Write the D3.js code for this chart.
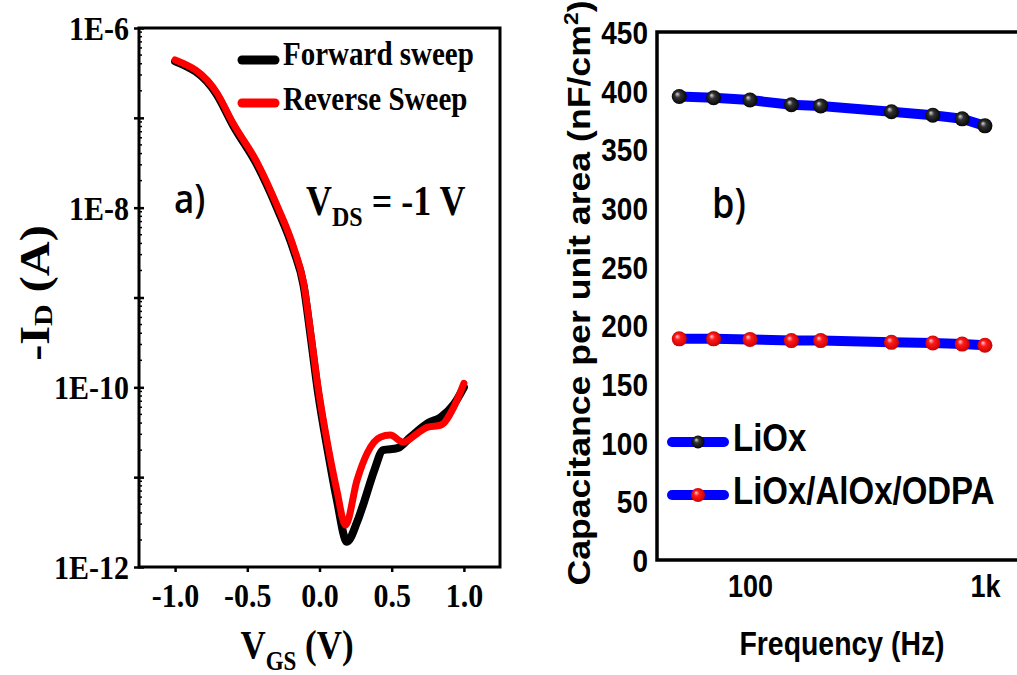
<!DOCTYPE html>
<html>
<head>
<meta charset="utf-8">
<script src="https://cdn.jsdelivr.net/npm/d3@7"></script>
<style>
  html, body { margin: 0; padding: 0; background: #fff; }
  svg { display: block; }
</style>
</head>
<body>
<svg id="chart" width="1017" height="675"></svg>
<script>
// ---------------- DATA ----------------
// Panel a) transfer curves
const vgsForward = [-1.00, -0.71, -0.60, -0.43, -0.29, -0.18, -0.11, -0.06, -0.01, 0.06, 0.12, 0.19, 0.26, 0.31, 0.38, 0.44, 0.54, 0.63, 0.75, 0.84, 0.93, 1.00];
const idForward  = [4.27e-7, 1.80e-7, 8.32e-8, 2.95e-8, 9.55e-9, 3.39e-9, 1.35e-9, 3.55e-10, 8.71e-11, 1.86e-11, 5.62e-12, 1.91e-12, 3.16e-12, 5.37e-12, 1.20e-11, 2.00e-11, 2.10e-11, 2.79e-11, 3.99e-11, 4.66e-11, 6.46e-11, 1.00e-10];
const vgsReverse = [-1.00, -0.71, -0.60, -0.43, -0.29, -0.18, -0.11, -0.06, -0.01, 0.06, 0.12, 0.18, 0.26, 0.33, 0.42, 0.49, 0.58, 0.68, 0.75, 0.84, 0.93, 1.00];
const idReverse  = [4.41e-7, 1.89e-7, 8.75e-8, 3.14e-8, 1.02e-8, 3.64e-9, 1.45e-9, 3.98e-10, 1.00e-10, 2.16e-11, 7.16e-12, 2.92e-12, 9.27e-12, 1.85e-11, 2.79e-11, 2.94e-11, 2.45e-11, 3.09e-11, 3.61e-11, 3.79e-11, 6.03e-11, 1.11e-10];
const vgsTicks = [-1.0, -0.5, 0.0, 0.5, 1.0];
const idDecades = [1e-12, 1e-11, 1e-10, 1e-9, 1e-8, 1e-7, 1e-6];
const idTickLabels = {"-12": "1E-12", "-10": "1E-10", "-8": "1E-8", "-6": "1E-6"};
const legendA = ["Forward sweep", "Reverse Sweep"];

// Panel b) capacitance vs frequency
const frequency = [50, 70, 100, 150, 200, 400, 600, 800, 1000];
const capLiOx   = [395, 394, 392, 388, 387, 382, 379, 376, 370];
const capODPA   = [188.5, 188.5, 188, 187, 187, 185.5, 185, 184, 183];
const capTicks  = [0, 50, 100, 150, 200, 250, 300, 350, 400, 450];
const freqTicks = [100, 1000];
const freqTickLabels = ["100", "1k"];
const legendB = ["LiOx", "LiOx/AlOx/ODPA"];

// ---------------- SETUP ----------------
const svg = d3.select("#chart");
const SY = 1.15; // vertical stretch of text in the reference
const SERIF = "'Liberation Serif', 'Times New Roman', serif";
const SANS = "'Liberation Sans', Arial, sans-serif";

const defs = svg.append("defs");
function sphere(id, hi, mid, edge) {
  const g = defs.append("radialGradient").attr("id", id)
    .attr("cx", "50%").attr("cy", "50%").attr("r", "55%")
    .attr("fx", "35%").attr("fy", "32%");
  g.append("stop").attr("offset", "0%").attr("stop-color", hi);
  g.append("stop").attr("offset", "35%").attr("stop-color", mid);
  g.append("stop").attr("offset", "100%").attr("stop-color", edge);
}
sphere("gBlack", "#d8d8d8", "#333", "#000");
sphere("gRed", "#ffd0d0", "#ff1a1a", "#c40000");

function stretchText(sel) {
  sel.each(function() {
    const t = d3.select(this);
    const x = +t.attr("x") || 0, y = +t.attr("y") || 0;
    t.attr("x", null).attr("y", null)
     .attr("transform", `translate(${x},${y}) scale(1,${SY})`);
  });
}

// ================= PANEL A =================
const A = {l: 139, r: 500, t: 28, b: 567};
const xA = d3.scaleLinear().domain([-1.25, 1.25]).range([A.l, A.r]);
const yA = d3.scaleLog().domain([1e-12, 1e-6]).range([A.b, A.t]);
const gA = svg.append("g");

// minor log ticks (inside)
const minor = [];
idDecades.slice(0, -1).forEach(d => { for (let k = 2; k <= 9; k++) minor.push(d * k); });
gA.append("g").selectAll("line").data(minor).join("line")
  .attr("x1", A.l).attr("x2", A.l + 3)
  .attr("y1", d => yA(d)).attr("y2", d => yA(d))
  .attr("stroke", "#000").attr("stroke-width", 1.5);

// y axis (major decade ticks crossing the axis)
const yAxisA = gA.append("g").attr("transform", `translate(${A.l},0)`)
  .call(d3.axisLeft(yA).tickValues(idDecades).tickSize(5).tickSizeOuter(0)
    .tickFormat(d => idTickLabels[Math.round(Math.log10(d))] || ""));
yAxisA.select(".domain").remove();
yAxisA.selectAll(".tick line").attr("x1", 5).attr("stroke-width", 2.5);
yAxisA.selectAll(".tick text")
  .attr("x", -10).attr("y", 11.4).attr("dy", null)
  .attr("font-family", SERIF).attr("font-weight", "bold").attr("font-size", 30)
  .attr("fill", "#000").attr("text-anchor", "end")
  .call(stretchText);

// x axis
const xAxisA = gA.append("g").attr("transform", `translate(0,${A.b})`)
  .call(d3.axisBottom(xA).tickValues(vgsTicks).tickSize(5).tickSizeOuter(0)
    .tickFormat(d3.format(".1f")));
xAxisA.select(".domain").remove();
xAxisA.selectAll(".tick line").attr("stroke-width", 2.5);
xAxisA.selectAll(".tick text")
  .text(d => d3.format(".1f")(d).replace("−", "-"))
  .attr("x", 0).attr("y", 40).attr("dy", null)
  .attr("font-family", SERIF).attr("font-weight", "bold").attr("font-size", 30)
  .attr("fill", "#000")
  .call(stretchText);

// frame
gA.append("rect").attr("x", A.l).attr("y", A.t)
  .attr("width", A.r - A.l).attr("height", A.b - A.t)
  .attr("fill", "none").attr("stroke", "#000").attr("stroke-width", 3);

// curves
const lineA = d3.line().x(d => xA(d[0])).y(d => yA(d[1])).curve(d3.curveMonotoneX);
gA.append("path").datum(d3.zip(vgsForward, idForward)).attr("d", lineA)
  .attr("fill", "none").attr("stroke", "#000").attr("stroke-width", 8)
  .attr("stroke-linejoin", "round").attr("stroke-linecap", "round");
gA.append("path").datum(d3.zip(vgsReverse, idReverse)).attr("d", lineA)
  .attr("fill", "none").attr("stroke", "#ff0000").attr("stroke-width", 7)
  .attr("stroke-linejoin", "round").attr("stroke-linecap", "round");

// legend A
const legA = [{c: "#000", ly: 60, ty: 65}, {c: "#ff0000", ly: 103, ty: 110}];
legA.forEach((s, i) => {
  gA.append("line").attr("x1", 242).attr("x2", 275).attr("y1", s.ly).attr("y2", s.ly)
    .attr("stroke", s.c).attr("stroke-width", 9).attr("stroke-linecap", "round");
  gA.append("text").attr("x", 283).attr("y", s.ty).text(legendA[i])
    .attr("font-family", SERIF).attr("font-weight", "bold").attr("font-size", 29)
    .call(stretchText);
});

// annotations A
gA.append("text").attr("x", 174).attr("y", 213).text("a)")
  .attr("font-family", "'Open Sans', sans-serif").attr("font-weight", 600).attr("font-size", 35)
  .call(stretchText);
const vds = gA.append("text").attr("x", 306).attr("y", 215)
  .attr("font-family", SERIF).attr("font-weight", "bold").attr("font-size", 36);
vds.append("tspan").text("V");
vds.append("tspan").text("DS").attr("font-size", 24).attr("dy", 9.5);
vds.append("tspan").text(" = -1 V").attr("dy", -9.5);
vds.call(stretchText);

// axis titles A
const xtA = gA.append("text").attr("x", 297).attr("y", 658).attr("text-anchor", "middle")
  .attr("font-family", SERIF).attr("font-weight", "bold").attr("font-size", 35);
xtA.append("tspan").text("V");
xtA.append("tspan").text("GS").attr("font-size", 23).attr("dy", 10);
xtA.append("tspan").text(" (V)").attr("dy", -10);
xtA.call(stretchText);

const ytA = gA.append("text").attr("text-anchor", "middle")
  .attr("transform", `translate(49,293) scale(1,${SY}) rotate(-90)`)
  .attr("font-family", SERIF).attr("font-weight", "bold").attr("font-size", 42);
ytA.append("tspan").text("-I");
ytA.append("tspan").text("D").attr("font-size", 26).attr("dy", 3);
ytA.append("tspan").text(" (A)").attr("dy", -3);

// ================= PANEL B =================
const B = {l: 657, r: 1020, t: 32, b: 560};
const xB = d3.scaleLog().domain([40.2, 1410]).range([B.l, B.r]);
const yB = d3.scaleLinear().domain([0, 450]).range([B.b, B.t]);
const gB = svg.append("g");

const yAxisB = gB.append("g").attr("transform", `translate(${B.l},0)`)
  .call(d3.axisLeft(yB).tickValues(capTicks).tickSize(0).tickSizeOuter(0));
yAxisB.select(".domain").remove();
yAxisB.selectAll(".tick line").remove();
yAxisB.selectAll(".tick text")
  .attr("x", -9).attr("y", 11.5).attr("dy", null)
  .attr("font-family", SANS).attr("font-weight", "bold").attr("font-size", 28)
  .attr("fill", "#000").attr("text-anchor", "end")
  .call(stretchText);

const xAxisB = gB.append("g").attr("transform", `translate(0,${B.b})`)
  .call(d3.axisBottom(xB).tickValues(freqTicks).tickSize(0).tickSizeOuter(0)
    .tickFormat((d, i) => freqTickLabels[i]));
xAxisB.select(".domain").remove();
xAxisB.selectAll(".tick line").remove();
xAxisB.selectAll(".tick text")
  .attr("x", 0).attr("y", 37).attr("dy", null)
  .attr("font-family", SANS).attr("font-weight", "bold").attr("font-size", 27)
  .attr("fill", "#000")
  .call(stretchText);

// frame (left, bottom, top)
gB.append("path")
  .attr("d", `M${B.r},${B.t}H${B.l}V${B.b}H${B.r}`)
  .attr("fill", "none").attr("stroke", "#000").attr("stroke-width", 3.5);

// series
const lineB = d3.line().x(d => xB(d[0])).y(d => yB(d[1]));
[[capLiOx, "url(#gBlack)"], [capODPA, "url(#gRed)"]].forEach(([vals, fill]) => {
  const pts = d3.zip(frequency, vals);
  gB.append("path").datum(pts).attr("d", lineB)
    .attr("fill", "none").attr("stroke", "#0000ff").attr("stroke-width", 10)
    .attr("stroke-linejoin", "round").attr("stroke-linecap", "round");
  gB.append("g").selectAll("circle").data(pts).join("circle")
    .attr("cx", d => xB(d[0])).attr("cy", d => yB(d[1])).attr("r", 7.5)
    .attr("fill", fill);
});

// legend B
const legB = [{f: "url(#gBlack)", ly: 442, ty: 451, r: 6.5}, {f: "url(#gRed)", ly: 495, ty: 504, r: 7}];
legB.forEach((s, i) => {
  gB.append("line").attr("x1", 672).attr("x2", 724).attr("y1", s.ly).attr("y2", s.ly)
    .attr("stroke", "#0000ff").attr("stroke-width", 10).attr("stroke-linecap", "round");
  gB.append("circle").attr("cx", 698).attr("cy", s.ly).attr("r", s.r).attr("fill", s.f);
  gB.append("text").attr("x", 733).attr("y", s.ty).text(legendB[i])
    .attr("font-family", SANS).attr("font-weight", "bold").attr("font-size", 33)
    .call(stretchText);
});

gB.append("text").attr("x", 712).attr("y", 218).text("b)")
  .attr("font-family", "'Open Sans', sans-serif").attr("font-weight", 600).attr("font-size", 36)
  .call(stretchText);

// axis titles B
gB.append("text").attr("x", 842).attr("y", 655).attr("text-anchor", "middle")
  .text("Frequency (Hz)")
  .attr("font-family", SANS).attr("font-weight", "bold").attr("font-size", 28.4)
  .call(stretchText);

const ytB = gB.append("text").attr("text-anchor", "middle")
  .attr("transform", `translate(590,293) scale(1,${SY}) rotate(-90)`)
  .attr("font-family", SANS).attr("font-weight", "bold").attr("font-size", 31);
ytB.append("tspan").text("Capacitance per unit area (nF/cm");
ytB.append("tspan").text("2").attr("font-size", 20).attr("dy", -12);
ytB.append("tspan").text(")").attr("dy", 12);
</script>
</body>
</html>
